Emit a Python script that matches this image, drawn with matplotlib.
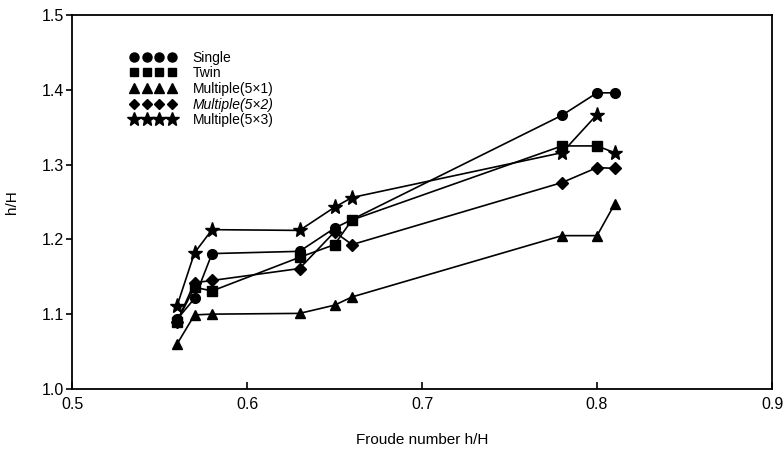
"""
Free-surface rise h/H against Froude number for five pier arrangements.
"""

import matplotlib

matplotlib.use("Agg")
import matplotlib.pyplot as plt  # noqa: E402
from matplotlib.lines import Line2D  # noqa: E402

plt.rcParams["font.family"] = ["Liberation Sans", "DejaVu Sans"]

single_x = [0.56, 0.57, 0.58, 0.63, 0.65, 0.78, 0.80, 0.81]
single_y = [1.093, 1.121, 1.181, 1.184, 1.215, 1.366, 1.396, 1.396]

twin_x = [0.56, 0.57, 0.58, 0.63, 0.65, 0.66, 0.78, 0.80, 0.81]
twin_y = [1.090, 1.136, 1.131, 1.176, 1.193, 1.226, 1.325, 1.325, 1.316]

m51_x = [0.56, 0.57, 0.58, 0.63, 0.65, 0.66, 0.78, 0.80, 0.81]
m51_y = [1.060, 1.099, 1.100, 1.101, 1.112, 1.123, 1.205, 1.205, 1.247]

m52_x = [0.56, 0.57, 0.58, 0.63, 0.65, 0.66, 0.78, 0.80, 0.81]
m52_y = [1.090, 1.142, 1.145, 1.161, 1.210, 1.193, 1.276, 1.296, 1.295]

m53_x = [0.56, 0.57, 0.58, 0.63, 0.65, 0.66, 0.78, 0.80, 0.81]
m53_y = [1.111, 1.182, 1.213, 1.212, 1.243, 1.256, 1.316, 1.367, 1.316]

labels = ["Single", "Twin", "Multiple(5\u00d71)", "Multiple(5\u00d72)", "Multiple(5\u00d73)"]
x_ticks = [0.5, 0.6, 0.7, 0.8, 0.9]
y_ticks = [1.0, 1.1, 1.2, 1.3, 1.4, 1.5]


def main() -> None:
    fig = plt.figure(figsize=(7.83, 4.57), dpi=100)
    ax = fig.add_axes([0.092, 0.149, 0.894, 0.818])

    kw = dict(color="black", linewidth=1.2)
    ax.plot(single_x, single_y, marker="o", markersize=7, **kw)
    # the last twin point sits under the 5x3 star, no square is drawn there
    ax.plot(twin_x, twin_y, marker="s", markersize=6.5, markevery=list(range(len(twin_x) - 1)), **kw)
    ax.plot(m51_x, m51_y, marker="^", markersize=7, **kw)
    ax.plot(m52_x, m52_y, marker="D", markersize=6, **kw)
    # the 5x3 line stops at 0.80, the star at 0.81 stands alone
    ax.plot(m53_x[:-1], m53_y[:-1], linestyle="-", **kw)
    ax.plot(m53_x, m53_y, linestyle="none", marker="*", markersize=11, color="black")

    ax.set_xlim(0.5, 0.9)
    ax.set_ylim(1.0, 1.5)
    ax.set_xticks(x_ticks)
    ax.set_xticklabels([f"{v:.1f}" for v in x_ticks])
    ax.set_yticks(y_ticks)
    ax.set_yticklabels([f"{v:.1f}" for v in y_ticks])
    ax.tick_params(axis="x", direction="in", length=5, width=1.2, labelsize=11.5, pad=6)
    ax.tick_params(axis="y", direction="out", length=4, width=1.2, labelsize=11.5, pad=2)
    for sp in ax.spines.values():
        sp.set_linewidth(1.3)

    ax.set_xlabel("Froude number h/H", fontsize=11, labelpad=15)
    ax.set_ylabel("h/H", fontsize=11, labelpad=16)

    markers = [("o", 6.5), ("s", 6), ("^", 6.5), ("D", 5.5), ("*", 10)]
    handles = [
        Line2D([], [], linestyle="none", marker=m, markersize=s, color="black")
        for m, s in markers
    ]
    leg = ax.legend(
        handles,
        labels,
        loc="upper left",
        bbox_to_anchor=(0.075, 0.92),
        numpoints=4,
        handlelength=3.3,
        handletextpad=1.2,
        labelspacing=0.12,
        frameon=False,
        fontsize=10,
        borderaxespad=0.0,
    )
    leg.get_texts()[3].set_fontstyle("italic")

    fig.savefig("out.png", dpi=100)
    plt.close(fig)


if __name__ == "__main__":
    main()
